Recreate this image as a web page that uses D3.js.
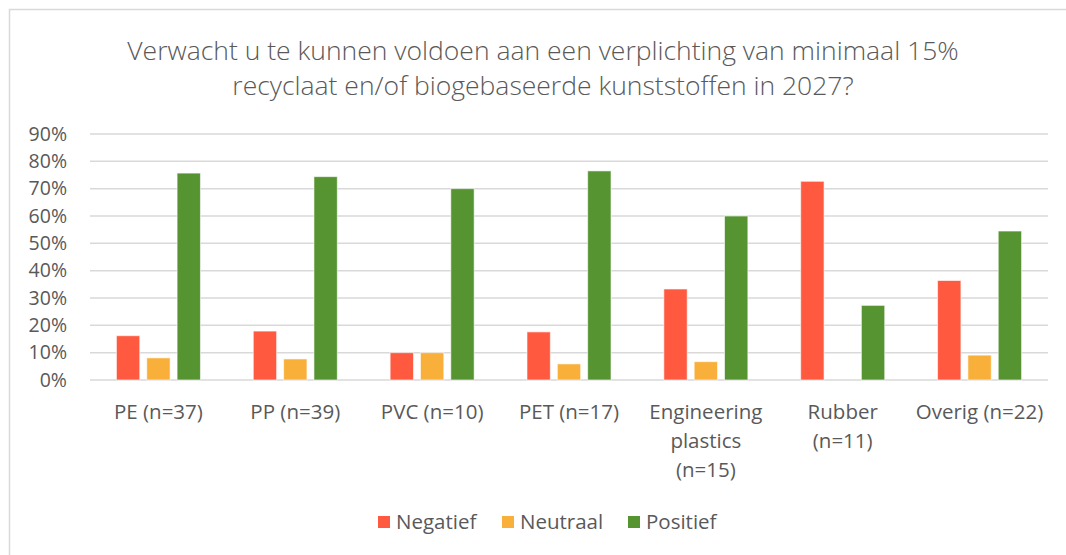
<!DOCTYPE html>
<html>
<head>
<meta charset="utf-8">
<script src="https://cdn.jsdelivr.net/npm/d3@7"></script>
<style>
  body { margin: 0; background: #fff; }
  text { font-family: "Open Sans", sans-serif; fill: #595959; }
  .grid line { stroke: #d9d9d9; stroke-width: 1.5; }
</style>
</head>
<body>
<svg id="chart"></svg>
<script>
// data (fractions)
const categories = ["PE (n=37)", "PP (n=39)", "PVC (n=10)", "PET (n=17)", "Engineering\nplastics\n(n=15)", "Rubber\n(n=11)", "Overig (n=22)"];
const series = ["Negatief", "Neutraal", "Positief"];
const negatief = [0.162, 0.179, 0.10, 0.176, 0.333, 0.727, 0.364];
const neutraal = [0.081, 0.077, 0.10, 0.059, 0.067, 0, 0.091];
const positief = [0.757, 0.744, 0.70, 0.765, 0.60, 0.273, 0.545];
const yTicks = [0, 0.1, 0.2, 0.3, 0.4, 0.5, 0.6, 0.7, 0.8, 0.9];
const titleLines = ["Verwacht u te kunnen voldoen aan een verplichting van minimaal 15%", "recyclaat en/of biogebaseerde kunststoffen in 2027?"];

const colors = { Negatief: "#ff5a40", Neutraal: "#f9b03a", Positief: "#559431" };
const values = { Negatief: negatief, Neutraal: neutraal, Positief: positief };

const W = 1066, H = 555;
const plot = { left: 90, right: 1048, top: 134, bottom: 380 };

const svg = d3.select("#chart").attr("width", W).attr("height", H);

// chart frame (only top and left edges are visible)
svg.append("rect")
  .attr("x", 9.5).attr("y", 9.5)
  .attr("width", W + 20).attr("height", H + 20)
  .attr("fill", "none").attr("stroke", "#d9d9d9").attr("stroke-width", 1.5);

// title
svg.append("text")
  .attr("text-anchor", "middle")
  .attr("font-size", 26.5)
  .attr("font-weight", 300)
  .selectAll("tspan")
  .data(titleLines)
  .enter().append("tspan")
  .attr("x", 543)
  .attr("y", (d, i) => 60 + i * 35)
  .text(d => d);

const x0 = d3.scaleBand()
  .domain(categories)
  .range([plot.left, plot.right])
  .paddingInner(0.386)
  .paddingOuter(0.193);

const x1 = d3.scaleBand()
  .domain(series)
  .range([0, x0.bandwidth()])
  .paddingInner(0.23);

const y = d3.scaleLinear()
  .domain([0, 0.9])
  .range([plot.bottom, plot.top]);

// gridlines
svg.append("g")
  .attr("class", "grid")
  .selectAll("line")
  .data(yTicks)
  .enter().append("line")
  .attr("x1", plot.left)
  .attr("x2", plot.right)
  .attr("y1", d => y(d))
  .attr("y2", d => y(d));

// y axis labels
const yAxis = svg.append("g")
  .attr("transform", "translate(" + plot.left + ",0)")
  .call(d3.axisLeft(y).tickValues(yTicks).tickFormat(d3.format(".0%")).tickSize(0).tickPadding(23));
yAxis.select(".domain").remove();
yAxis.selectAll("text").attr("font-size", 19.5).attr("fill", "#595959").style("font-family", "Open Sans, sans-serif");

// bars
const groups = svg.selectAll(".group")
  .data(categories)
  .enter().append("g")
  .attr("class", "group")
  .attr("transform", d => "translate(" + x0(d) + ",0)");

groups.selectAll("rect")
  .data((d, i) => series.map(s => ({ key: s, value: values[s][i] })))
  .enter().append("rect")
  .filter(d => d.value > 0)
  .attr("x", d => x1(d.key))
  .attr("width", x1.bandwidth())
  .attr("y", d => y(d.value))
  .attr("height", d => y(0) - y(d.value))
  .attr("fill", d => colors[d.key])
  .attr("stroke", "#ffffff")
  .attr("stroke-opacity", 0.6)
  .attr("stroke-width", 1);

// category labels
svg.append("g")
  .selectAll("text")
  .data(categories)
  .enter().append("text")
  .attr("text-anchor", "middle")
  .attr("font-size", 20.5)
  .each(function (d) {
    const t = d3.select(this);
    d.split("\n").forEach((line, i) => {
      t.append("tspan")
        .attr("x", x0(d) + x0.bandwidth() / 2)
        .attr("y", 419 + i * 29)
        .text(line);
    });
  });

// legend
const legendX = [378, 502, 628];
const legend = svg.append("g")
  .selectAll("g")
  .data(series)
  .enter().append("g")
  .attr("transform", (d, i) => "translate(" + legendX[i] + ",516)");

legend.append("rect")
  .attr("width", 12).attr("height", 12)
  .attr("fill", d => colors[d]);

legend.append("text")
  .attr("x", 18)
  .attr("y", 12.5)
  .attr("font-size", 20.5)
  .text(d => d);
</script>
</body>
</html>
